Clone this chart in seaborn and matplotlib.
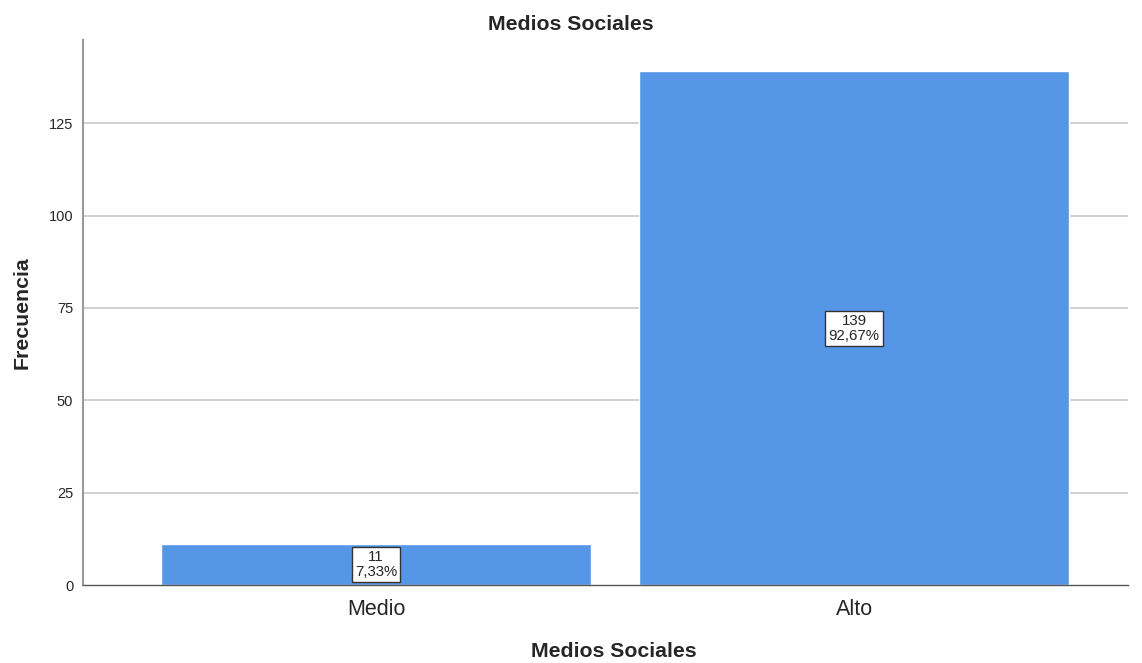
import numpy as np
import pandas as pd
import matplotlib
matplotlib.use('Agg')
import matplotlib.pyplot as plt
import seaborn as sns

categorias = ['Medio', 'Alto']
frecuencias = [11, 139]
porcentajes = ['7,33%', '92,67%']

df = pd.DataFrame({'Medios Sociales': categorias, 'Frecuencia': frecuencias})

sns.set_style('white')
plt.rcParams['font.family'] = ['Liberation Sans', 'DejaVu Sans']

fig = plt.figure(figsize=(11.42, 6.63), dpi=100)
ax = fig.add_axes([0.0727, 0.1176, 0.915, 0.822])

# lineas de grilla
for t in [25, 50, 75, 100, 125]:
    ax.axhline(t, color='#c8c8c8', lw=1.2, zorder=0)

sns.barplot(x='Medios Sociales', y='Frecuencia', data=df, color='#5596e6',
            saturation=1, width=0.9, ax=ax, zorder=2)

# etiquetas de cada barra
for i, (f, p) in enumerate(zip(frecuencias, porcentajes)):
    ax.text(i, f / 2, f'{f}\n{p}', ha='center', va='center', fontsize=10.8,
            linespacing=1.05, zorder=3,
            bbox=dict(boxstyle='square,pad=0.22', fc='white', ec='#333333', lw=1))

ax.set_xlim(-0.613, 1.573)
ax.set_ylim(0, 147.5)
ax.set_yticks([0, 25, 50, 75, 100, 125])
ax.tick_params(axis='y', labelsize=10.5, length=0, pad=7)
ax.tick_params(axis='x', labelsize=15.5, length=0, pad=10)
fig.text(0.5, 0.963, 'Medios Sociales', ha='center', va='center',
         fontsize=15.3, fontweight='bold')
ax.set_xlabel('Medios Sociales', fontsize=15.3, fontweight='bold', labelpad=16)
ax.xaxis.label.set_x(0.508)
ax.set_ylabel('Frecuencia', fontsize=15.3, fontweight='bold', labelpad=12)

ax.spines['top'].set_visible(False)
ax.spines['right'].set_visible(False)
ax.spines['left'].set_color('#999999')
ax.spines['left'].set_linewidth(1.5)
ax.spines['bottom'].set_color('#555555')
ax.spines['bottom'].set_linewidth(1)

plt.savefig('out.png', dpi=100)
